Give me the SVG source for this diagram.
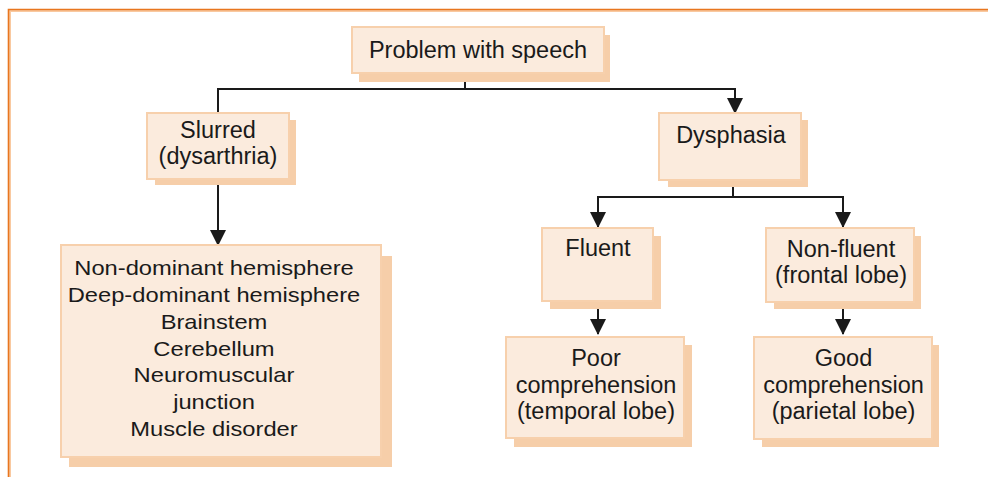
<svg xmlns="http://www.w3.org/2000/svg" width="988" height="477" viewBox="0 0 988 477">
<defs>
<style>
.shadow{fill:#F6CEA9;}
.box{fill:#FBEBDD;stroke:#F7D0AC;stroke-width:2;}
.t{font-family:"Liberation Sans",Arial,sans-serif;font-size:23.5px;fill:#1a1a1a;text-anchor:middle;}
.l{font-family:"Liberation Sans",Arial,sans-serif;font-size:21px;fill:#1a1a1a;text-anchor:middle;}
.c{fill:none;stroke:#1a1a1a;stroke-width:2;}
</style>
<marker id="ah" markerWidth="16" markerHeight="16" refX="15" refY="8" orient="auto" markerUnits="userSpaceOnUse">
<path d="M0,0 L16,8 L0,16 Z" fill="#1a1a1a"/>
</marker>
</defs>
<rect width="988" height="477" fill="#ffffff"/>
<path d="M9.5,477 V10.5 H988" fill="none" stroke="#F9C9A0" stroke-width="3"/>
<path d="M8.5,477 V9.5 H988" fill="none" stroke="#E8761F" stroke-width="1.6"/>

<g id="connectors">
<path class="c" d="M465,73 V89"/>
<path class="c" d="M218,89 H735"/>
<path class="c" d="M218,88 V113"/>
<path class="c" d="M735,88 V113" marker-end="url(#ah)"/>
<path class="c" d="M218,179 V245" marker-end="url(#ah)"/>
<path class="c" d="M733,180 V197"/>
<path class="c" d="M598,197 H843"/>
<path class="c" d="M598,196 V227" marker-end="url(#ah)"/>
<path class="c" d="M843,196 V227" marker-end="url(#ah)"/>
<path class="c" d="M598,301 V334" marker-end="url(#ah)"/>
<path class="c" d="M843,302 V334" marker-end="url(#ah)"/>
</g>

<g id="problem">
<rect class="shadow" x="359" y="35" width="251" height="47"/>
<rect class="box" x="352" y="27" width="252" height="46"/>
<text class="t" x="478" y="58">Problem with speech</text>
</g>

<g id="slurred">
<rect class="shadow" x="155" y="120" width="141" height="65"/>
<rect class="box" x="147" y="113" width="142" height="66"/>
<text class="t" x="218" y="138">Slurred</text>
<text class="t" x="218" y="164">(dysarthria)</text>
</g>

<g id="causes">
<rect class="shadow" x="69" y="256" width="323" height="211"/>
<rect class="box" x="61" y="245" width="320" height="212"/>
<g transform="translate(214,0) scale(1.13,1)">
<text class="l" x="0" y="275.5">Non-dominant hemisphere</text>
<text class="l" x="0" y="302.2">Deep-dominant hemisphere</text>
<text class="l" x="0" y="328.9">Brainstem</text>
<text class="l" x="0" y="355.6">Cerebellum</text>
<text class="l" x="0" y="382.3">Neuromuscular</text>
<text class="l" x="0" y="409">junction</text>
<text class="l" x="0" y="435.7">Muscle disorder</text>
</g>
</g>

<g id="dysphasia">
<rect class="shadow" x="668" y="120" width="140" height="67"/>
<rect class="box" x="659" y="113" width="142" height="67"/>
<text class="t" x="731" y="143">Dysphasia</text>
</g>

<g id="fluent">
<rect class="shadow" x="550" y="236" width="111" height="73"/>
<rect class="box" x="542" y="228" width="111" height="73"/>
<text class="t" x="598" y="256">Fluent</text>
</g>

<g id="nonfluent">
<rect class="shadow" x="774" y="236" width="147" height="73"/>
<rect class="box" x="766" y="228" width="148" height="74"/>
<text class="t" x="841" y="256.5">Non-fluent</text>
<text class="t" x="841" y="283">(frontal lobe)</text>
</g>

<g id="poor">
<rect class="shadow" x="514" y="345" width="178" height="102"/>
<rect class="box" x="506" y="337" width="178" height="101"/>
<text class="t" x="596" y="366">Poor</text>
<text class="t" x="596" y="392.5">comprehension</text>
<text class="t" x="596" y="419">(temporal lobe)</text>
</g>

<g id="good">
<rect class="shadow" x="762" y="345" width="177" height="102"/>
<rect class="box" x="754" y="337" width="178" height="102"/>
<text class="t" x="843.5" y="366">Good</text>
<text class="t" x="843.5" y="392.5">comprehension</text>
<text class="t" x="843.5" y="419">(parietal lobe)</text>
</g>
</svg>
